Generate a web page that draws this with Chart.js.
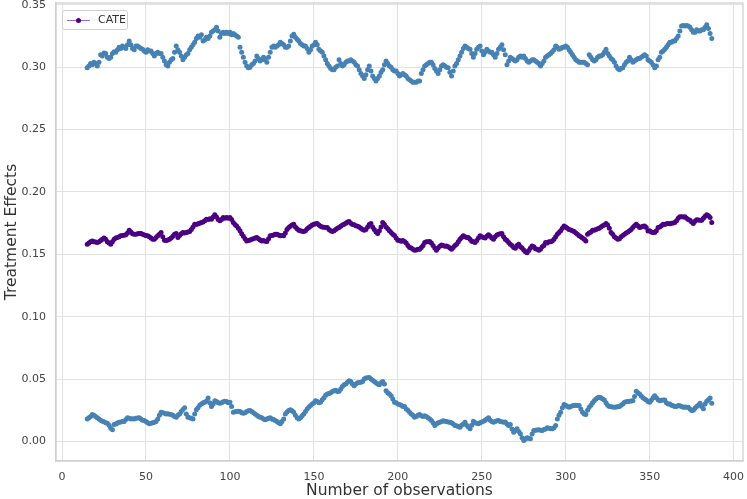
<!DOCTYPE html>
<html>
<head>
<meta charset="utf-8">
<script src="https://cdn.jsdelivr.net/npm/chart.js@4.4.1/dist/chart.umd.min.js"></script>
<style>
  body { margin: 0; background: #fff; }
  #wrap { position: relative; width: 747px; height: 499px; }
  #legend {
    position: absolute; left: 62px; top: 10px; width: 64px; height: 18px;
    border: 1px solid #d0d0d0; border-radius: 3px; background: rgba(255,255,255,0.85);
    font-family: "DejaVu Sans", sans-serif; font-size: 11px; color: #333;
  }
  #legend .line { position: absolute; left: 4px; top: 9px; width: 23px; border-top: 1px solid #9a66c2; }
  #legend .dot { position: absolute; left: 13px; top: 7px; width: 5px; height: 5px; border-radius: 50%; background: #4b0082; }
  #legend .txt { position: absolute; left: 35px; top: 2px; }
</style>
</head>
<body>
<div id="wrap">
  <canvas id="chart" width="747" height="499"></canvas>
  <div id="legend"><span class="line"></span><span class="dot"></span><span class="txt">CATE</span></div>
</div>
<script>
// observations 15..387
let first_obs = 15;

// upper bound of the treatment effect
let upper_values = [
  0.2995, 0.301, 0.303, 0.302, 0.304, 0.303, 0.301, 0.304, 0.310, 0.309,
  0.3115, 0.311, 0.308, 0.307, 0.308, 0.311, 0.3125, 0.312, 0.314, 0.316,
  0.315, 0.317, 0.316, 0.315, 0.318, 0.321, 0.318, 0.315, 0.314, 0.317,
  0.317, 0.316, 0.315, 0.3145, 0.313, 0.312, 0.314, 0.313, 0.313, 0.311,
  0.309, 0.311, 0.312, 0.311, 0.311, 0.308, 0.305, 0.302, 0.301, 0.304,
  0.306, 0.307, 0.312, 0.317, 0.314, 0.312, 0.309, 0.306, 0.308, 0.310,
  0.311, 0.314, 0.316, 0.318, 0.320, 0.323, 0.325, 0.324, 0.326, 0.321,
  0.322, 0.324, 0.323, 0.325, 0.328, 0.329, 0.330, 0.332, 0.329, 0.324,
  0.327, 0.328, 0.327, 0.328, 0.327, 0.328, 0.326, 0.327, 0.326, 0.325,
  0.324, 0.316, 0.312, 0.308, 0.304, 0.301, 0.2995, 0.300, 0.302, 0.303,
  0.305, 0.309, 0.307, 0.305, 0.306, 0.308, 0.306, 0.304, 0.308, 0.312,
  0.316, 0.317, 0.316, 0.317, 0.318, 0.320, 0.319, 0.318, 0.316, 0.316,
  0.317, 0.321, 0.325, 0.3265, 0.324, 0.3225, 0.321, 0.319, 0.318, 0.317,
  0.317, 0.315, 0.312, 0.314, 0.317, 0.318, 0.320, 0.318, 0.3145, 0.313,
  0.312, 0.309, 0.306, 0.303, 0.301, 0.299, 0.298, 0.298, 0.300, 0.301,
  0.306, 0.303, 0.301, 0.302, 0.304, 0.305, 0.305, 0.306, 0.305, 0.304,
  0.302, 0.301, 0.298, 0.295, 0.293, 0.291, 0.294, 0.298, 0.301, 0.297,
  0.293, 0.291, 0.289, 0.291, 0.293, 0.296, 0.298, 0.302, 0.305, 0.303,
  0.301, 0.300, 0.298, 0.297, 0.297, 0.295, 0.293, 0.294, 0.295, 0.294,
  0.293, 0.291, 0.290, 0.289, 0.288, 0.288, 0.288, 0.289, 0.289, 0.295,
  0.298, 0.301, 0.302, 0.303, 0.304, 0.304, 0.302, 0.299, 0.297, 0.295,
  0.298, 0.301, 0.302, 0.301, 0.300, 0.2995, 0.296, 0.293, 0.297, 0.301,
  0.303, 0.306, 0.309, 0.312, 0.315, 0.317, 0.316, 0.315, 0.3145, 0.311,
  0.308, 0.311, 0.3145, 0.316, 0.317, 0.313, 0.310, 0.312, 0.3145, 0.313,
  0.312, 0.312, 0.310, 0.308, 0.311, 0.3145, 0.316, 0.318, 0.314, 0.310,
  0.302, 0.305, 0.308, 0.307, 0.306, 0.305, 0.306, 0.308, 0.309, 0.308,
  0.309, 0.307, 0.305, 0.304, 0.305, 0.306, 0.306, 0.305, 0.304, 0.303,
  0.301, 0.303, 0.305, 0.308, 0.309, 0.310, 0.311, 0.3125, 0.314, 0.317,
  0.316, 0.3145, 0.315, 0.316, 0.316, 0.317, 0.316, 0.314, 0.312, 0.310,
  0.308, 0.306, 0.305, 0.304, 0.304, 0.304, 0.304, 0.303, 0.302, 0.310,
  0.308, 0.306, 0.305, 0.306, 0.308, 0.309, 0.309, 0.310, 0.312, 0.3145,
  0.311, 0.309, 0.307, 0.306, 0.304, 0.301, 0.299, 0.298, 0.299, 0.2995,
  0.302, 0.304, 0.305, 0.308, 0.306, 0.304, 0.305, 0.306, 0.307, 0.307,
  0.308, 0.309, 0.310, 0.309, 0.306, 0.305, 0.304, 0.302, 0.2995, 0.301,
  0.306, 0.308, 0.312, 0.313, 0.3145, 0.316, 0.318, 0.320, 0.320, 0.321,
  0.321, 0.323, 0.325, 0.329, 0.333, 0.3335, 0.333, 0.3335, 0.333, 0.332,
  0.330, 0.328, 0.328, 0.330, 0.329, 0.329, 0.330, 0.330, 0.332, 0.334,
  0.331, 0.327, 0.323
];

// conditional average treatment effect
let cate_values = [
  0.158, 0.159, 0.160, 0.1607, 0.160, 0.1598, 0.1594, 0.160, 0.161, 0.162,
  0.163, 0.162, 0.160, 0.159, 0.158, 0.160, 0.162, 0.163, 0.1635, 0.164,
  0.1648, 0.165, 0.1652, 0.1656, 0.167, 0.1694, 0.168, 0.1665, 0.1661, 0.166,
  0.1665, 0.1667, 0.1667, 0.166, 0.1655, 0.165, 0.1648, 0.164, 0.163, 0.162,
  0.162, 0.1635, 0.1648, 0.166, 0.1675, 0.164, 0.1613, 0.161, 0.1615, 0.162,
  0.163, 0.1645, 0.166, 0.1667, 0.1634, 0.165, 0.1665, 0.1675, 0.167, 0.1675,
  0.168, 0.1683, 0.170, 0.172, 0.1742, 0.174, 0.1745, 0.175, 0.1755, 0.176,
  0.177, 0.1782, 0.178, 0.1785, 0.1782, 0.180, 0.1817, 0.180, 0.178, 0.1769,
  0.178, 0.1796, 0.179, 0.1795, 0.179, 0.1796, 0.178, 0.1755, 0.174, 0.1728,
  0.171, 0.169, 0.1665, 0.1645, 0.1625, 0.1607, 0.161, 0.1615, 0.162, 0.1625,
  0.163, 0.1634, 0.1625, 0.1615, 0.1607, 0.161, 0.1605, 0.1602, 0.1625, 0.1648,
  0.165, 0.1655, 0.166, 0.1661, 0.1655, 0.1648, 0.165, 0.1648, 0.167, 0.170,
  0.1715, 0.1725, 0.1735, 0.1742, 0.172, 0.1705, 0.1694, 0.169, 0.1685, 0.1683,
  0.169, 0.1705, 0.1715, 0.1725, 0.1735, 0.1742, 0.1745, 0.1747, 0.1735, 0.1725,
  0.172, 0.1718, 0.1715, 0.1715, 0.170, 0.169, 0.1683, 0.169, 0.170, 0.171,
  0.1715, 0.1725, 0.1735, 0.1742, 0.175, 0.176, 0.1763, 0.175, 0.174, 0.1737,
  0.173, 0.1725, 0.172, 0.171, 0.170, 0.1694, 0.170, 0.172, 0.174, 0.1747,
  0.172, 0.170, 0.168, 0.1667, 0.169, 0.172, 0.1755, 0.174, 0.172, 0.1705,
  0.169, 0.1675, 0.1661, 0.165, 0.163, 0.1613, 0.161, 0.1605, 0.161, 0.1602,
  0.159, 0.157, 0.1554, 0.155, 0.154, 0.1532, 0.1535, 0.154, 0.154, 0.1555,
  0.157, 0.1594, 0.160, 0.160, 0.1602, 0.159, 0.157, 0.155, 0.1532, 0.155,
  0.1565, 0.1575, 0.157, 0.1565, 0.1567, 0.156, 0.155, 0.154, 0.1555, 0.157,
  0.158, 0.160, 0.162, 0.1635, 0.1648, 0.164, 0.1635, 0.1634, 0.162, 0.1605,
  0.160, 0.1594, 0.161, 0.163, 0.1648, 0.164, 0.1635, 0.163, 0.1645, 0.1656,
  0.1645, 0.163, 0.162, 0.164, 0.1655, 0.1661, 0.1665, 0.1667, 0.164, 0.162,
  0.161, 0.1594, 0.158, 0.157, 0.1555, 0.1548, 0.157, 0.158, 0.156, 0.155,
  0.1535, 0.152, 0.1513, 0.153, 0.155, 0.1567, 0.156, 0.1545, 0.154, 0.1532,
  0.154, 0.156, 0.157, 0.1594, 0.159, 0.160, 0.160, 0.1607, 0.162, 0.164,
  0.166, 0.1675, 0.169, 0.171, 0.1728, 0.172, 0.171, 0.170, 0.1695, 0.169,
  0.1683, 0.167, 0.166, 0.1648, 0.164, 0.163, 0.162, 0.1607, 0.1661, 0.167,
  0.168, 0.1694, 0.1694, 0.170, 0.1705, 0.171, 0.172, 0.173, 0.1735, 0.1747,
  0.1735, 0.171, 0.1675, 0.166, 0.164, 0.163, 0.162, 0.1625, 0.164, 0.165,
  0.1661, 0.167, 0.168, 0.169, 0.170, 0.1715, 0.173, 0.1742, 0.173, 0.1715,
  0.172, 0.1725, 0.1728, 0.1715, 0.1688, 0.169, 0.168, 0.1675, 0.1675, 0.169,
  0.1715, 0.172, 0.173, 0.1742, 0.174, 0.1745, 0.1747, 0.1745, 0.175, 0.1752,
  0.1755, 0.177, 0.179, 0.1801, 0.1801, 0.180, 0.1801, 0.179, 0.178, 0.1774,
  0.176, 0.1747, 0.1765, 0.1777, 0.1775, 0.1774, 0.1774, 0.179, 0.1805, 0.1817,
  0.181, 0.1796, 0.1755
];

// lower bound of the treatment effect
let lower_values = [
  0.018, 0.019, 0.020, 0.0215, 0.021, 0.020, 0.0189, 0.018, 0.017, 0.0162,
  0.0158, 0.015, 0.0146, 0.013, 0.0105, 0.0093, 0.0136, 0.014, 0.0148, 0.0154,
  0.0155, 0.016, 0.016, 0.0175, 0.0189, 0.0185, 0.018, 0.0182, 0.018, 0.0185,
  0.0188, 0.0189, 0.018, 0.017, 0.0168, 0.016, 0.015, 0.0141, 0.0145, 0.015,
  0.0154, 0.016, 0.018, 0.021, 0.0234, 0.023, 0.0225, 0.022, 0.0222, 0.0218,
  0.0215, 0.021, 0.020, 0.0194, 0.021, 0.022, 0.024, 0.0255, 0.0269, 0.022,
  0.0194, 0.019, 0.0185, 0.018, 0.022, 0.0253, 0.027, 0.029, 0.030, 0.031,
  0.0315, 0.0322, 0.0348, 0.031, 0.0279, 0.030, 0.0327, 0.032, 0.031, 0.0306,
  0.031, 0.0318, 0.0322, 0.032, 0.031, 0.0314, 0.028, 0.0234, 0.0238, 0.024,
  0.0242, 0.024, 0.023, 0.0226, 0.023, 0.024, 0.0245, 0.0247, 0.024, 0.023,
  0.022, 0.021, 0.020, 0.0194, 0.019, 0.018, 0.0173, 0.018, 0.0185, 0.0189,
  0.018, 0.0175, 0.0168, 0.016, 0.015, 0.0141, 0.016, 0.018, 0.022, 0.0235,
  0.0247, 0.0253, 0.0245, 0.0234, 0.021, 0.019, 0.018, 0.019, 0.0205, 0.022,
  0.024, 0.026, 0.0275, 0.0287, 0.030, 0.031, 0.0327, 0.032, 0.031, 0.0314,
  0.0335, 0.035, 0.037, 0.038, 0.0385, 0.039, 0.040, 0.0407, 0.041, 0.040,
  0.0402, 0.042, 0.044, 0.0455, 0.046, 0.0475, 0.0487, 0.048, 0.046, 0.0447,
  0.046, 0.047, 0.0473, 0.0475, 0.048, 0.050, 0.0508, 0.051, 0.0513, 0.050,
  0.049, 0.0481, 0.047, 0.046, 0.0455, 0.047, 0.0481, 0.046, 0.0407, 0.039,
  0.038, 0.0367, 0.034, 0.0314, 0.031, 0.030, 0.0295, 0.029, 0.028, 0.0279,
  0.026, 0.025, 0.0234, 0.022, 0.021, 0.0194, 0.020, 0.021, 0.0215, 0.0205,
  0.020, 0.0205, 0.020, 0.019, 0.018, 0.0168, 0.015, 0.0128, 0.014, 0.015,
  0.0154, 0.016, 0.0165, 0.0162, 0.016, 0.0155, 0.0154, 0.015, 0.014, 0.0128,
  0.0125, 0.012, 0.0114, 0.013, 0.014, 0.0154, 0.013, 0.0115, 0.0101, 0.013,
  0.0162, 0.015, 0.0145, 0.0141, 0.015, 0.0155, 0.0162, 0.017, 0.018, 0.0189,
  0.017, 0.016, 0.0154, 0.016, 0.0165, 0.0168, 0.016, 0.0158, 0.0154, 0.0155,
  0.014, 0.0128, 0.0136, 0.010, 0.0074, 0.009, 0.0101, 0.008, 0.0061, 0.003,
  0.0008, 0.002, 0.0029, 0.0025, 0.0021, 0.006, 0.0088, 0.009, 0.0092, 0.0093,
  0.009, 0.0088, 0.0095, 0.010, 0.0109, 0.0105, 0.0102, 0.0101, 0.011, 0.0128,
  0.018, 0.021, 0.0234, 0.027, 0.0295, 0.029, 0.028, 0.0274, 0.028, 0.0285,
  0.0287, 0.029, 0.0288, 0.0287, 0.026, 0.0234, 0.022, 0.0215, 0.025, 0.0274,
  0.029, 0.031, 0.0327, 0.034, 0.035, 0.0354, 0.035, 0.034, 0.0332, 0.031,
  0.029, 0.0279, 0.0278, 0.0276, 0.0274, 0.0275, 0.0278, 0.0279, 0.029, 0.030,
  0.0314, 0.0318, 0.032, 0.0322, 0.0325, 0.0327, 0.036, 0.0402, 0.039, 0.038,
  0.0365, 0.035, 0.034, 0.0332, 0.032, 0.0314, 0.033, 0.035, 0.0367, 0.035,
  0.0335, 0.0327, 0.033, 0.0332, 0.0332, 0.031, 0.030, 0.030, 0.029, 0.0285,
  0.0279, 0.028, 0.0287, 0.0285, 0.028, 0.0274, 0.0275, 0.0274, 0.0274, 0.026,
  0.0247, 0.025, 0.0265, 0.0279, 0.029, 0.0306, 0.028, 0.0261, 0.030, 0.0322,
  0.0335, 0.0348, 0.0306
];

// tick labels
let x_ticks = [0, 50, 100, 150, 200, 250, 300, 350, 400];
let y_ticks = [0.00, 0.05, 0.10, 0.15, 0.20, 0.25, 0.30, 0.35];

let blue = '#4682b4';
let purple = '#4b0082';
let tick_font = { family: 'DejaVu Sans', size: 11 };
let title_font = { family: 'DejaVu Sans', size: 15.5, lineHeight: 1 };

// turn a value list into scatter points
function points(values) {
    return values.map((v, i) => ({ x: first_obs + i, y: v }));
}

// drop the extra room chart.js keeps for edge tick labels
function no_label_padding(s) {
    s.paddingTop = 0;
    s.paddingBottom = 0;
    s.paddingLeft = 0;
    s.paddingRight = 0;
}

// top and right spines (chart.js only draws the axis borders)
let frame_plugin = {
    id: 'frame',
    beforeDatasetsDraw(chart) {
        let a = chart.chartArea;
        let ctx = chart.ctx;
        ctx.save();
        ctx.strokeStyle = '#cfcfcf';
        ctx.lineWidth = 1.25;
        ctx.strokeRect(a.left, a.top, a.right - a.left, a.bottom - a.top);
        ctx.restore();
    }
};

let effects_chart = new Chart(document.getElementById('chart').getContext('2d'), {
    type: 'scatter',
    data: {
        datasets: [
            {
                label: 'upper',
                data: points(upper_values),
                backgroundColor: blue,
                borderColor: blue,
                pointRadius: 2.5,
                pointBorderWidth: 0
            },
            {
                label: 'CATE',
                data: points(cate_values),
                showLine: true,
                borderColor: 'rgba(75,0,130,0.45)',
                borderWidth: 1,
                backgroundColor: purple,
                pointBackgroundColor: purple,
                pointBorderWidth: 0,
                pointRadius: 2.5
            },
            {
                label: 'lower',
                data: points(lower_values),
                backgroundColor: blue,
                borderColor: blue,
                pointRadius: 2.5,
                pointBorderWidth: 0
            }
        ]
    },
    options: {
        responsive: false,
        animation: false,
        layout: { autoPadding: false, padding: { top: 3, right: 4, left: 0, bottom: 0 } },
        plugins: { legend: { display: false }, tooltip: { enabled: false } },
        scales: {
            x: {
                type: 'linear',
                min: -3.6,
                max: 405.6,
                afterBuildTicks: s => { s.ticks = x_ticks.map(v => ({ value: v })); },
                afterFit: s => { s.height = 38; no_label_padding(s); },
                grid: { color: '#e2e2e2', lineWidth: 1, drawTicks: false },
                border: { color: '#cfcfcf', width: 1.25 },
                ticks: { font: tick_font, color: '#444', padding: 10, maxRotation: 0 },
                title: { display: true, text: 'Number of observations', font: title_font, color: '#333', padding: 0 }
            },
            y: {
                min: -0.0157,
                max: 0.3515,
                afterBuildTicks: s => { s.ticks = y_ticks.map(v => ({ value: v })); },
                afterFit: s => { s.width = 56; no_label_padding(s); },
                grid: { color: '#e2e2e2', lineWidth: 1, drawTicks: false },
                border: { color: '#cfcfcf', width: 1.25 },
                ticks: { font: tick_font, color: '#444', padding: 10, callback: v => v.toFixed(2) },
                title: { display: true, text: 'Treatment Effects', font: title_font, color: '#333', padding: 4 }
            }
        }
    },
    plugins: [frame_plugin]
});
</script>
</body>
</html>
